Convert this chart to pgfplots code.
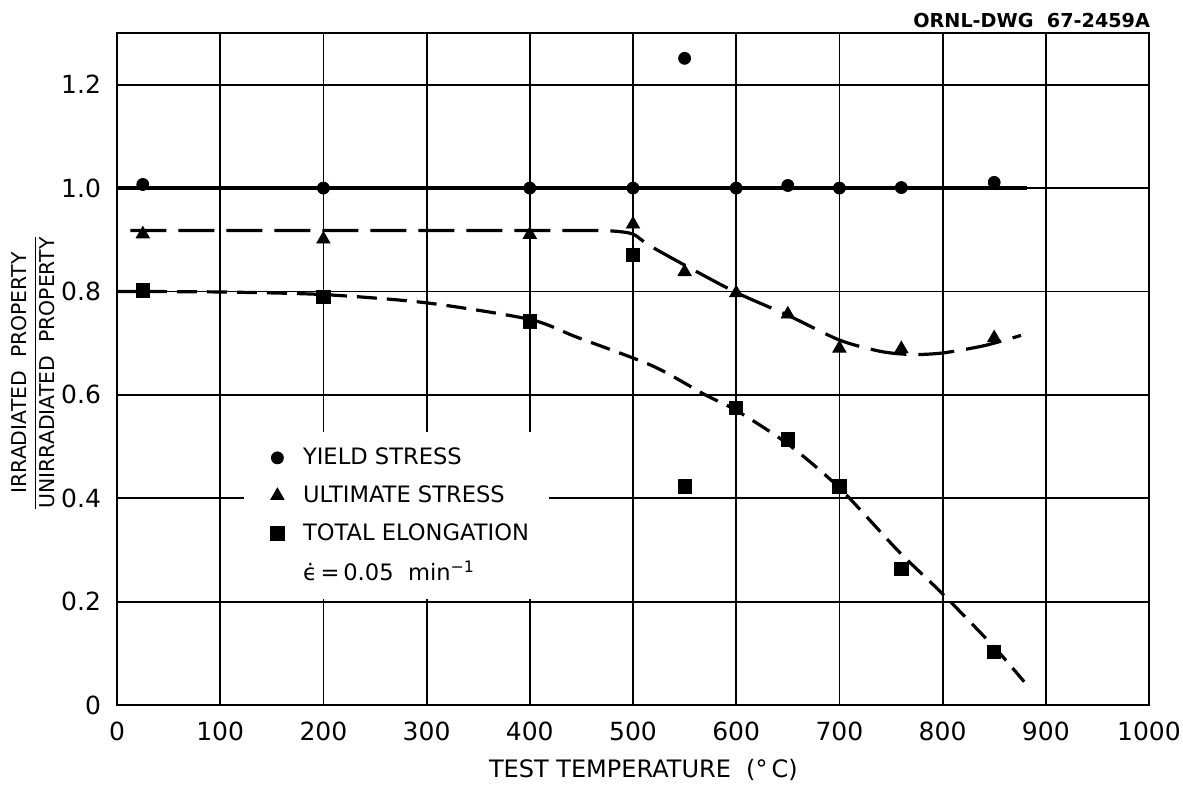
\documentclass[border=0pt]{standalone}
\usepackage{fontspec}
\setmainfont{DejaVu Sans}
\usepackage{pgfplots}
\pgfplotsset{compat=1.18}
\begin{document}
\begin{tikzpicture}
\useasboundingbox (-58.5pt,-39.5pt) rectangle (533pt,352.5pt);
\begin{axis}[
  at={(0pt,0pt)}, anchor=south west,
  scale only axis, width=516pt, height=336pt,
  xmin=0, xmax=1000, ymin=0, ymax=1.3,
  xtick={0,100,200,300,400,500,600,700,800,900,1000},
  xticklabels={0,100,200,300,400,500,600,700,800,900,1000},
  ytick={0,0.2,0.4,0.6,0.8,1.0,1.2},
  yticklabels={0,0.2,0.4,0.6,0.8,1.0,1.2},
  grid=major, major grid style={black, line width=0.9pt},
  major tick length=0pt,
  axis line style={line width=1.4pt},
  tick label style={font=\fontsize{12.5}{14}\selectfont},
  xticklabel style={yshift=-5pt},
  yticklabel style={xshift=-4.5pt},
  xlabel={TEST TEMPERATURE\ \ (°\,C)},
  xlabel style={at={(axis description cs:0.51,-0.1086)}, anchor=base,
    font=\fontsize{12}{14}\selectfont},
  ylabel={$\displaystyle\frac{\hbox{IRRADIATED\ \ PROPERTY}}{\hbox{UNIRRADIATED\ \ PROPERTY}}$},
  ylabel style={at={(axis description cs:-0.0814,0.494)}, anchor=center,
    font=\fontsize{10.2}{12}\selectfont},
  legend style={at={(axis cs:123,0.528)}, anchor=north west, draw=none,
    fill=white, inner xsep=8pt, inner ysep=5.75pt, row sep=5pt,
    font=\fontsize{11.3}{13.5}\selectfont,
    /tikz/every odd column/.append style={column sep=7.5pt}},
  legend cell align=left,
]
% fitted curves
\addplot[forget plot, line width=1.6pt] coordinates {(0,1.0) (882,1.0)};
\addplot[forget plot, smooth, tension=0.45, line width=1.6pt,
  dash pattern=on 18pt off 6pt] coordinates {
  (13,0.918) (300,0.918) (450,0.918) (480,0.917) (500,0.911) (515,0.890)
  (550,0.851) (600,0.798) (650,0.754) (700,0.706) (740,0.684) (770,0.678)
  (800,0.681) (840,0.695) (876,0.715)};
\addplot[forget plot, smooth, tension=0.45, line width=1.6pt,
  dash pattern=on 10pt off 5pt] coordinates {
  (0,0.800) (100,0.799) (200,0.794) (300,0.778) (400,0.746) (445,0.712)
  (519,0.656) (570,0.600) (600,0.570) (650,0.505) (700,0.420) (757,0.298)
  (800,0.215) (850,0.112) (879,0.045)};
% measured ratios
\addplot[only marks, mark=*, mark size=3pt] coordinates {
  (25,1.007) (200,1.000) (400,1.000) (500,1.000) (550,1.251) (600,1.000)
  (650,1.005) (700,1.000) (760,1.001) (850,1.011)};
\addlegendentry{YIELD STRESS}
\addplot[only marks, mark=triangle*, mark size=3.8pt] coordinates {
  (25,0.911) (200,0.901) (400,0.910) (500,0.930) (550,0.838) (600,0.797)
  (650,0.756) (700,0.690) (760,0.689) (850,0.710)};
\addlegendentry{ULTIMATE STRESS}
\addplot[only marks, mark=square*, mark size=3.3pt] coordinates {
  (25,0.802) (200,0.789) (400,0.742) (500,0.870) (550,0.423) (600,0.575)
  (650,0.514) (700,0.423) (760,0.264) (850,0.102)};
\addlegendentry{TOTAL ELONGATION}
\addlegendimage{empty legend}
\addlegendentry{\.{ϵ}\,=\,0.05\ \ min\textsuperscript{−1}}
\end{axis}
\node[anchor=base east, font=\bfseries\fontsize{9.6}{11}\selectfont]
  at (520pt,339pt) {ORNL-DWG\ \ 67-2459A};
\end{tikzpicture}
\end{document}
